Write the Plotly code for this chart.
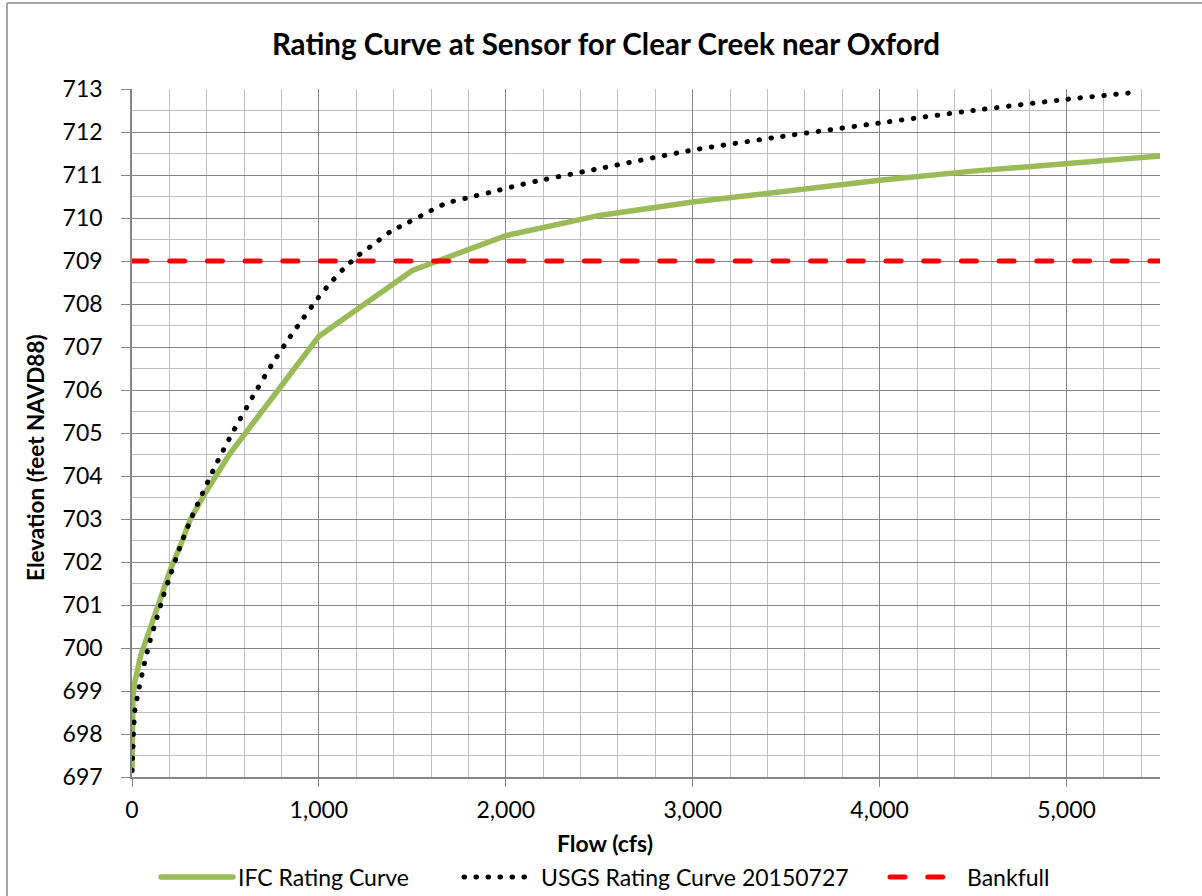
import plotly.graph_objects as go

# ---------------- data ----------------
ifc_flow = [0, 3, 5, 16, 48, 93, 140, 205, 262, 311, 391, 471, 524, 1000,
            1500, 2000, 2500, 3000, 3500, 4000, 4500, 5000, 5500]
ifc_elev = [697.15, 698.5, 698.85, 699.23, 699.85, 700.4, 701.0, 701.82,
            702.42, 702.98, 703.6, 704.18, 704.52, 707.25, 708.78, 709.59,
            710.06, 710.37, 710.64, 710.88, 711.09, 711.28, 711.44]

usgs_flow = [0, 5, 8, 16, 39, 66, 96, 133, 167, 208, 247, 312, 443, 527, 648,
             745, 848, 920, 995, 1062, 1130, 1208, 1290, 1382, 1480, 1577,
             1679, 1805, 1929, 2057, 2178, 2500, 3000, 3500, 4000, 4500,
             5000, 5364]
usgs_elev = [697.15, 697.6, 698.0, 698.56, 699.09, 699.63, 700.16, 700.7,
             701.2, 701.73, 702.23, 702.97, 704.21, 704.92, 705.86, 706.57,
             707.25, 707.69, 708.14, 708.49, 708.81, 709.12, 709.38, 709.68,
             709.9, 710.12, 710.34, 710.48, 710.61, 710.75, 710.87, 711.15,
             711.58, 711.91, 712.21, 712.5, 712.76, 712.92]

bank_flow = [0, 5500]
bank_elev = [709, 709]

x_ticks = [0, 1000, 2000, 3000, 4000, 5000]
x_ticklabels = ["0", "1,000", "2,000", "3,000", "4,000", "5,000"]
y_ticks = list(range(697, 714))

FONT = "Lato"

# ---------------- figure ----------------
fig = go.Figure()
fig.add_trace(go.Scatter(x=ifc_flow, y=ifc_elev, mode="lines",
                         name="IFC Rating Curve", legend="legend",
                         line=dict(color="#9BBB59", width=5.5)))
fig.add_trace(go.Scatter(x=usgs_flow, y=usgs_elev, mode="lines",
                         name="USGS Rating Curve 20150727", legend="legend2",
                         line=dict(color="black", width=5, dash="0.5px,11.5px",
                                   shape="spline", smoothing=0.6)))
fig.add_trace(go.Scatter(x=bank_flow, y=bank_elev, mode="lines",
                         name="Bankfull", legend="legend3",
                         line=dict(color="#FF0000", width=5, dash="15px,22.7px")))

L, R, T, B = 132, 42, 89, 119
W, H = 1202, 896
pw, ph = W - L - R, H - T - B

def px_x(p):
    return (p - L) / pw

def px_y(p):
    return (H - B - p) / ph

def legend_at(px):
    return dict(orientation="h", x=px_x(px), xanchor="left",
                y=px_y(877), yanchor="middle",
                font=dict(family=FONT, size=23, color="black"),
                itemwidth=72, bgcolor="rgba(0,0,0,0)")

fig.update_layout(
    width=W, height=H,
    margin=dict(l=L, r=R, t=T, b=B, autoexpand=False),
    paper_bgcolor="white", plot_bgcolor="white",
    font=dict(family=FONT, size=23, color="black"),
    title=dict(text="<b>Rating Curve at Sensor for Clear Creek near Oxford</b>",
               x=606 / W, xanchor="center", y=1 - 45 / H, yanchor="middle",
               font=dict(family=FONT, size=29.5, color="black")),
    showlegend=True,
    legend=legend_at(156),
    legend2=legend_at(459),
    legend3=legend_at(885),
    xaxis=dict(range=[0, 5500], tickvals=x_ticks, ticktext=x_ticklabels,
               showgrid=True, gridcolor="#868686", gridwidth=1.2,
               minor=dict(dtick=200, showgrid=True, gridcolor="#BFBFBF",
                          gridwidth=1.2, ticks=""),
               showline=True, linecolor="#868686", linewidth=1.5,
               ticks="outside", ticklen=8, tickcolor="#868686",
               ticklabelstandoff=4, zeroline=False, automargin=False),
    yaxis=dict(range=[697, 713], tickvals=y_ticks,
               showgrid=True, gridcolor="#868686", gridwidth=1.2,
               minor=dict(dtick=0.5, showgrid=True, gridcolor="#BFBFBF",
                          gridwidth=1.2, ticks=""),
               showline=True, linecolor="#868686", linewidth=1.5,
               ticks="outside", ticklen=9, tickcolor="#868686",
               ticklabelstandoff=14, zeroline=False, automargin=False),
    annotations=[
        dict(text="<b>Elevation (feet NAVD88)</b>", textangle=-90,
             xref="paper", yref="paper", x=px_x(36), y=px_y(458),
             xanchor="center", yanchor="middle", showarrow=False,
             font=dict(family=FONT, size=22.5, color="black")),
        dict(text="<b>Flow (cfs)</b>",
             xref="paper", yref="paper", x=px_x(605), y=px_y(843),
             xanchor="center", yanchor="middle", showarrow=False,
             font=dict(family=FONT, size=23, color="black")),
    ],
    shapes=[
        dict(type="line", xref="paper", yref="paper",
             x0=px_x(7), x1=px_x(7), y0=px_y(3), y1=px_y(H + 5),
             line=dict(color="#888888", width=1.5)),
        dict(type="line", xref="paper", yref="paper",
             x0=px_x(7), x1=px_x(W + 5), y0=px_y(3), y1=px_y(3),
             line=dict(color="#888888", width=1.5)),
    ],
)

post = """
document.body.style.margin = '0';
var gd = document.getElementById('{plot_id}');
gd.querySelectorAll('path.js-line').forEach(function (p) {
    p.style.strokeLinecap = 'round';
});
"""

fig.write_html("out.html", post_script=post,
               config={"displayModeBar": False})
